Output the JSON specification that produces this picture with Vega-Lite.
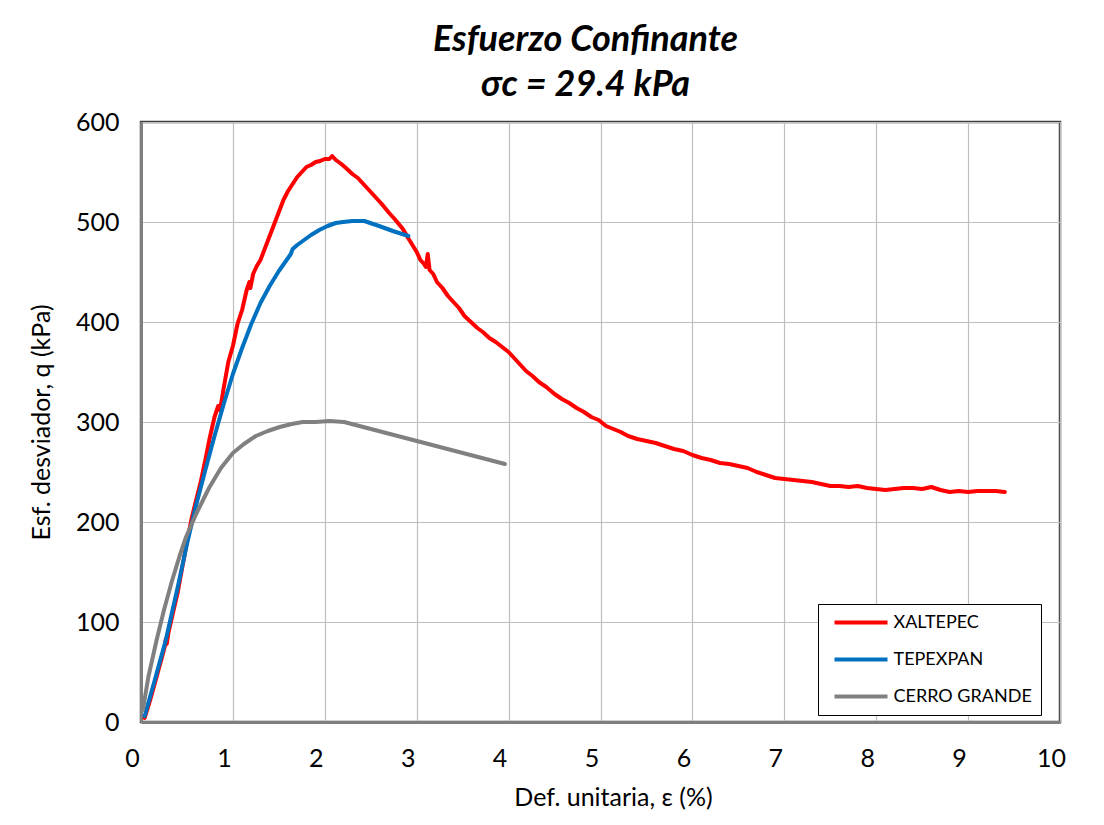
{
  "$schema": "https://vega.github.io/schema/vega-lite/v6.json",
  "width": 919,
  "height": 600,
  "autosize": {"type": "none"},
  "padding": {"left": 141, "top": 122, "right": 44, "bottom": 103},
  "background": "white",
  "title": {
    "text": ["Esfuerzo Confinante", "σc = 29.4 kPa"],
    "font": "Lato",
    "fontSize": 36,
    "fontWeight": "bold",
    "fontStyle": "italic",
    "color": "black",
    "lineHeight": 45,
    "offset": 6,
    "dx": -15,
    "anchor": "middle"
  },
  "config": {
    "view": {"stroke": "#404040", "strokeWidth": 2.5},
    "font": "Lato"
  },
  "data": {
    "values": [
      {"s": "XALTEPEC", "x": 0.04, "y": 4}, {"s": "XALTEPEC", "x": 0.10, "y": 22}, {"s": "XALTEPEC", "x": 0.16, "y": 42}, {"s": "XALTEPEC", "x": 0.22, "y": 62}, {"s": "XALTEPEC", "x": 0.26, "y": 76}, {"s": "XALTEPEC", "x": 0.27, "y": 83}, {"s": "XALTEPEC", "x": 0.28, "y": 78}, {"s": "XALTEPEC", "x": 0.30, "y": 90}, {"s": "XALTEPEC", "x": 0.35, "y": 110}, {"s": "XALTEPEC", "x": 0.40, "y": 130}, {"s": "XALTEPEC", "x": 0.45, "y": 155}, {"s": "XALTEPEC", "x": 0.50, "y": 180}, {"s": "XALTEPEC", "x": 0.55, "y": 203}, {"s": "XALTEPEC", "x": 0.60, "y": 222}, {"s": "XALTEPEC", "x": 0.65, "y": 240}, {"s": "XALTEPEC", "x": 0.70, "y": 262}, {"s": "XALTEPEC", "x": 0.75, "y": 285}, {"s": "XALTEPEC", "x": 0.80, "y": 305}, {"s": "XALTEPEC", "x": 0.84, "y": 316}, {"s": "XALTEPEC", "x": 0.86, "y": 312}, {"s": "XALTEPEC", "x": 0.90, "y": 334}, {"s": "XALTEPEC", "x": 0.95, "y": 360}, {"s": "XALTEPEC", "x": 1.00, "y": 376}, {"s": "XALTEPEC", "x": 1.05, "y": 398}, {"s": "XALTEPEC", "x": 1.10, "y": 412}, {"s": "XALTEPEC", "x": 1.15, "y": 432}, {"s": "XALTEPEC", "x": 1.18, "y": 440}, {"s": "XALTEPEC", "x": 1.19, "y": 434}, {"s": "XALTEPEC", "x": 1.22, "y": 448}, {"s": "XALTEPEC", "x": 1.26, "y": 456}, {"s": "XALTEPEC", "x": 1.30, "y": 462}, {"s": "XALTEPEC", "x": 1.35, "y": 474}, {"s": "XALTEPEC", "x": 1.40, "y": 486}, {"s": "XALTEPEC", "x": 1.45, "y": 498}, {"s": "XALTEPEC", "x": 1.50, "y": 510}, {"s": "XALTEPEC", "x": 1.55, "y": 522}, {"s": "XALTEPEC", "x": 1.60, "y": 531}, {"s": "XALTEPEC", "x": 1.65, "y": 538}, {"s": "XALTEPEC", "x": 1.70, "y": 545}, {"s": "XALTEPEC", "x": 1.75, "y": 550}, {"s": "XALTEPEC", "x": 1.80, "y": 555}, {"s": "XALTEPEC", "x": 1.85, "y": 557}, {"s": "XALTEPEC", "x": 1.90, "y": 560}, {"s": "XALTEPEC", "x": 1.95, "y": 561}, {"s": "XALTEPEC", "x": 2.00, "y": 563}, {"s": "XALTEPEC", "x": 2.05, "y": 563}, {"s": "XALTEPEC", "x": 2.08, "y": 566}, {"s": "XALTEPEC", "x": 2.12, "y": 562}, {"s": "XALTEPEC", "x": 2.18, "y": 558}, {"s": "XALTEPEC", "x": 2.23, "y": 554}, {"s": "XALTEPEC", "x": 2.30, "y": 548}, {"s": "XALTEPEC", "x": 2.36, "y": 544}, {"s": "XALTEPEC", "x": 2.40, "y": 540}, {"s": "XALTEPEC", "x": 2.46, "y": 534}, {"s": "XALTEPEC", "x": 2.52, "y": 528}, {"s": "XALTEPEC", "x": 2.56, "y": 524}, {"s": "XALTEPEC", "x": 2.62, "y": 518}, {"s": "XALTEPEC", "x": 2.70, "y": 509}, {"s": "XALTEPEC", "x": 2.76, "y": 503}, {"s": "XALTEPEC", "x": 2.85, "y": 493}, {"s": "XALTEPEC", "x": 2.90, "y": 485}, {"s": "XALTEPEC", "x": 2.96, "y": 476}, {"s": "XALTEPEC", "x": 3.00, "y": 470}, {"s": "XALTEPEC", "x": 3.04, "y": 462}, {"s": "XALTEPEC", "x": 3.08, "y": 458}, {"s": "XALTEPEC", "x": 3.10, "y": 455}, {"s": "XALTEPEC", "x": 3.12, "y": 468}, {"s": "XALTEPEC", "x": 3.14, "y": 452}, {"s": "XALTEPEC", "x": 3.18, "y": 448}, {"s": "XALTEPEC", "x": 3.22, "y": 440}, {"s": "XALTEPEC", "x": 3.28, "y": 434}, {"s": "XALTEPEC", "x": 3.34, "y": 426}, {"s": "XALTEPEC", "x": 3.40, "y": 420}, {"s": "XALTEPEC", "x": 3.46, "y": 414}, {"s": "XALTEPEC", "x": 3.52, "y": 406}, {"s": "XALTEPEC", "x": 3.59, "y": 400}, {"s": "XALTEPEC", "x": 3.66, "y": 394}, {"s": "XALTEPEC", "x": 3.72, "y": 390}, {"s": "XALTEPEC", "x": 3.79, "y": 384}, {"s": "XALTEPEC", "x": 3.86, "y": 380}, {"s": "XALTEPEC", "x": 3.93, "y": 375}, {"s": "XALTEPEC", "x": 4.00, "y": 370}, {"s": "XALTEPEC", "x": 4.08, "y": 362}, {"s": "XALTEPEC", "x": 4.14, "y": 356}, {"s": "XALTEPEC", "x": 4.19, "y": 351}, {"s": "XALTEPEC", "x": 4.26, "y": 346}, {"s": "XALTEPEC", "x": 4.33, "y": 340}, {"s": "XALTEPEC", "x": 4.41, "y": 335}, {"s": "XALTEPEC", "x": 4.50, "y": 328}, {"s": "XALTEPEC", "x": 4.58, "y": 323}, {"s": "XALTEPEC", "x": 4.66, "y": 319}, {"s": "XALTEPEC", "x": 4.74, "y": 314}, {"s": "XALTEPEC", "x": 4.82, "y": 310}, {"s": "XALTEPEC", "x": 4.90, "y": 305}, {"s": "XALTEPEC", "x": 4.98, "y": 302}, {"s": "XALTEPEC", "x": 5.06, "y": 296}, {"s": "XALTEPEC", "x": 5.14, "y": 293}, {"s": "XALTEPEC", "x": 5.22, "y": 290}, {"s": "XALTEPEC", "x": 5.30, "y": 286}, {"s": "XALTEPEC", "x": 5.40, "y": 283}, {"s": "XALTEPEC", "x": 5.50, "y": 281}, {"s": "XALTEPEC", "x": 5.60, "y": 279}, {"s": "XALTEPEC", "x": 5.70, "y": 276}, {"s": "XALTEPEC", "x": 5.80, "y": 273}, {"s": "XALTEPEC", "x": 5.90, "y": 271}, {"s": "XALTEPEC", "x": 6.00, "y": 267}, {"s": "XALTEPEC", "x": 6.10, "y": 264}, {"s": "XALTEPEC", "x": 6.20, "y": 262}, {"s": "XALTEPEC", "x": 6.30, "y": 259}, {"s": "XALTEPEC", "x": 6.40, "y": 258}, {"s": "XALTEPEC", "x": 6.50, "y": 256}, {"s": "XALTEPEC", "x": 6.60, "y": 254}, {"s": "XALTEPEC", "x": 6.70, "y": 250}, {"s": "XALTEPEC", "x": 6.80, "y": 247}, {"s": "XALTEPEC", "x": 6.90, "y": 244}, {"s": "XALTEPEC", "x": 7.00, "y": 243}, {"s": "XALTEPEC", "x": 7.10, "y": 242}, {"s": "XALTEPEC", "x": 7.20, "y": 241}, {"s": "XALTEPEC", "x": 7.30, "y": 240}, {"s": "XALTEPEC", "x": 7.40, "y": 238}, {"s": "XALTEPEC", "x": 7.50, "y": 236}, {"s": "XALTEPEC", "x": 7.60, "y": 236}, {"s": "XALTEPEC", "x": 7.70, "y": 235}, {"s": "XALTEPEC", "x": 7.80, "y": 236}, {"s": "XALTEPEC", "x": 7.90, "y": 234}, {"s": "XALTEPEC", "x": 8.00, "y": 233}, {"s": "XALTEPEC", "x": 8.10, "y": 232}, {"s": "XALTEPEC", "x": 8.20, "y": 233}, {"s": "XALTEPEC", "x": 8.30, "y": 234}, {"s": "XALTEPEC", "x": 8.40, "y": 234}, {"s": "XALTEPEC", "x": 8.50, "y": 233}, {"s": "XALTEPEC", "x": 8.60, "y": 235}, {"s": "XALTEPEC", "x": 8.70, "y": 232}, {"s": "XALTEPEC", "x": 8.80, "y": 230}, {"s": "XALTEPEC", "x": 8.90, "y": 231}, {"s": "XALTEPEC", "x": 9.00, "y": 230}, {"s": "XALTEPEC", "x": 9.10, "y": 231}, {"s": "XALTEPEC", "x": 9.20, "y": 231}, {"s": "XALTEPEC", "x": 9.30, "y": 231}, {"s": "XALTEPEC", "x": 9.40, "y": 230},
      {"s": "TEPEXPAN", "x": 0.04, "y": 6}, {"s": "TEPEXPAN", "x": 0.15, "y": 42}, {"s": "TEPEXPAN", "x": 0.27, "y": 82}, {"s": "TEPEXPAN", "x": 0.40, "y": 135}, {"s": "TEPEXPAN", "x": 0.50, "y": 178}, {"s": "TEPEXPAN", "x": 0.60, "y": 217}, {"s": "TEPEXPAN", "x": 0.70, "y": 252}, {"s": "TEPEXPAN", "x": 0.80, "y": 286}, {"s": "TEPEXPAN", "x": 0.90, "y": 318}, {"s": "TEPEXPAN", "x": 1.00, "y": 348}, {"s": "TEPEXPAN", "x": 1.10, "y": 374}, {"s": "TEPEXPAN", "x": 1.20, "y": 398}, {"s": "TEPEXPAN", "x": 1.30, "y": 419}, {"s": "TEPEXPAN", "x": 1.40, "y": 436}, {"s": "TEPEXPAN", "x": 1.50, "y": 451}, {"s": "TEPEXPAN", "x": 1.60, "y": 464}, {"s": "TEPEXPAN", "x": 1.63, "y": 468}, {"s": "TEPEXPAN", "x": 1.65, "y": 473}, {"s": "TEPEXPAN", "x": 1.70, "y": 477}, {"s": "TEPEXPAN", "x": 1.76, "y": 481}, {"s": "TEPEXPAN", "x": 1.85, "y": 487}, {"s": "TEPEXPAN", "x": 1.94, "y": 492}, {"s": "TEPEXPAN", "x": 2.03, "y": 496}, {"s": "TEPEXPAN", "x": 2.12, "y": 499}, {"s": "TEPEXPAN", "x": 2.20, "y": 500}, {"s": "TEPEXPAN", "x": 2.30, "y": 501}, {"s": "TEPEXPAN", "x": 2.43, "y": 501}, {"s": "TEPEXPAN", "x": 2.59, "y": 496}, {"s": "TEPEXPAN", "x": 2.74, "y": 491}, {"s": "TEPEXPAN", "x": 2.91, "y": 486},
      {"s": "CERRO GRANDE", "x": 0.02, "y": 12}, {"s": "CERRO GRANDE", "x": 0.08, "y": 45}, {"s": "CERRO GRANDE", "x": 0.17, "y": 82}, {"s": "CERRO GRANDE", "x": 0.25, "y": 112}, {"s": "CERRO GRANDE", "x": 0.34, "y": 142}, {"s": "CERRO GRANDE", "x": 0.42, "y": 166}, {"s": "CERRO GRANDE", "x": 0.49, "y": 185}, {"s": "CERRO GRANDE", "x": 0.60, "y": 208}, {"s": "CERRO GRANDE", "x": 0.74, "y": 234}, {"s": "CERRO GRANDE", "x": 0.87, "y": 254}, {"s": "CERRO GRANDE", "x": 1.00, "y": 269}, {"s": "CERRO GRANDE", "x": 1.12, "y": 278}, {"s": "CERRO GRANDE", "x": 1.25, "y": 286}, {"s": "CERRO GRANDE", "x": 1.38, "y": 291}, {"s": "CERRO GRANDE", "x": 1.51, "y": 295}, {"s": "CERRO GRANDE", "x": 1.64, "y": 298}, {"s": "CERRO GRANDE", "x": 1.76, "y": 300}, {"s": "CERRO GRANDE", "x": 1.90, "y": 300}, {"s": "CERRO GRANDE", "x": 2.05, "y": 301}, {"s": "CERRO GRANDE", "x": 2.21, "y": 300}, {"s": "CERRO GRANDE", "x": 3.96, "y": 258}
    ]
  },
  "mark": {"type": "line", "strokeWidth": 4, "strokeJoin": "round", "strokeCap": "round"},
  "encoding": {
    "x": {
      "field": "x", "type": "quantitative",
      "scale": {"domain": [0, 10], "nice": false},
      "axis": {
        "title": "Def. unitaria, ε (%)",
        "values": [0, 1, 2, 3, 4, 5, 6, 7, 8, 9, 10],
        "format": "d",
        "labelOffset": -9,
        "labelFlush": false,
        "labelPadding": 24,
        "labelFontSize": 25,
        "labelFont": "Lato",
        "labelColor": "black",
        "ticks": false,
        "grid": true,
        "gridColor": "#BEBEBE",
        "gridWidth": 1.2,
        "domainColor": "#7f7f7f",
        "domainWidth": 3,
        "titleFont": "Lato",
        "titleFontSize": 25,
        "titleFontWeight": "normal",
        "titleColor": "black",
        "titlePadding": 14,
        "titleX": 472
      }
    },
    "y": {
      "field": "y", "type": "quantitative",
      "scale": {"domain": [0, 600], "nice": false},
      "axis": {
        "title": "Esf. desviador, q (kPa)",
        "values": [0, 100, 200, 300, 400, 500, 600],
        "labelPadding": 22,
        "labelFontSize": 25,
        "labelFont": "Lato",
        "labelColor": "black",
        "ticks": false,
        "grid": true,
        "gridColor": "#BEBEBE",
        "gridWidth": 1.2,
        "domainColor": "#7f7f7f",
        "domainWidth": 3,
        "titleFont": "Lato",
        "titleFontSize": 25,
        "titleFontWeight": "normal",
        "titleColor": "black",
        "titlePadding": 21
      }
    },
    "color": {
      "field": "s", "type": "nominal",
      "scale": {"domain": ["XALTEPEC", "TEPEXPAN", "CERRO GRANDE"], "range": ["#FF0000", "#0070C0", "#808080"]},
      "legend": {
        "title": null,
        "orient": "none",
        "legendX": 677,
        "legendY": 482,
        "symbolType": "stroke",
        "symbolSize": 2809,
        "symbolStrokeWidth": 4,
        "symbolOffset": 6,
        "clipHeight": 20,
        "labelFont": "Lato",
        "labelFontSize": 18,
        "labelColor": "black",
        "labelOffset": 4,
        "rowPadding": 17,
        "padding": 8.5,
        "strokeColor": "black",
        "fillColor": "white"
      }
    }
  }
}
